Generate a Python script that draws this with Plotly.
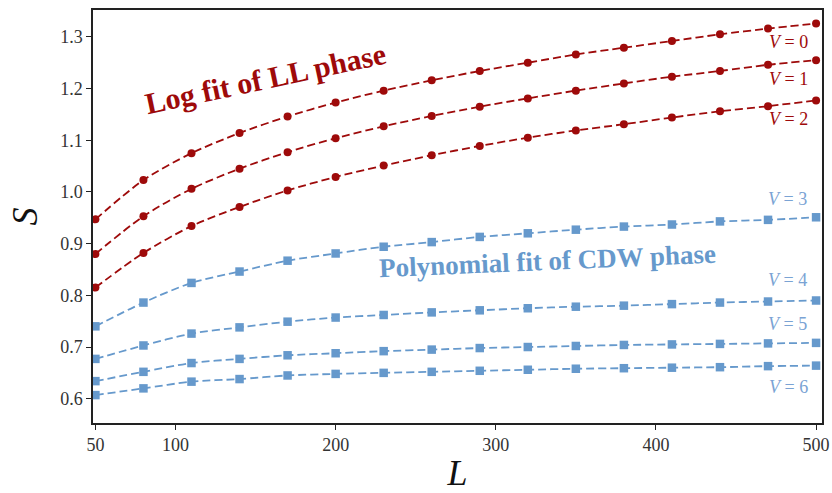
import plotly.graph_objects as go

# System sizes
L = [50, 80, 110, 140, 170, 200, 230, 260, 290, 320, 350, 380, 410, 440, 470, 500]

# Entanglement entropy S(L) for each interaction strength V
S_V0 = [0.947, 1.023, 1.075, 1.114, 1.146, 1.173, 1.196, 1.216, 1.234, 1.250, 1.266, 1.279, 1.292, 1.305, 1.316, 1.326]
S_V1 = [0.880, 0.953, 1.006, 1.045, 1.077, 1.104, 1.127, 1.147, 1.165, 1.181, 1.196, 1.210, 1.223, 1.234, 1.246, 1.255]
S_V2 = [0.815, 0.882, 0.934, 0.971, 1.003, 1.029, 1.051, 1.071, 1.089, 1.105, 1.119, 1.131, 1.144, 1.156, 1.166, 1.177]
S_V3 = [0.740, 0.786, 0.824, 0.846, 0.867, 0.881, 0.894, 0.903, 0.913, 0.920, 0.927, 0.933, 0.937, 0.943, 0.946, 0.951]
S_V4 = [0.677, 0.703, 0.726, 0.738, 0.749, 0.757, 0.762, 0.767, 0.771, 0.775, 0.778, 0.780, 0.783, 0.786, 0.788, 0.790]
S_V5 = [0.634, 0.652, 0.669, 0.677, 0.684, 0.688, 0.692, 0.695, 0.698, 0.700, 0.702, 0.704, 0.705, 0.706, 0.707, 0.708]
S_V6 = [0.607, 0.620, 0.633, 0.638, 0.645, 0.648, 0.650, 0.652, 0.654, 0.656, 0.658, 0.659, 0.660, 0.661, 0.663, 0.664]

# Curve labels and where they sit (L, S)
labels = ["V = 0", "V = 1", "V = 2", "V = 3", "V = 4", "V = 5", "V = 6"]
label_pos = [(483, 1.290), (483, 1.218), (483, 1.141), (482, 0.986),
             (482, 0.829), (482, 0.744), (483, 0.622)]

x_ticks = [50, 100, 200, 300, 400, 500]
y_ticks = [0.6, 0.7, 0.8, 0.9, 1.0, 1.1, 1.2, 1.3]

RED = "#9e0a0a"
BLUE = "#6699cc"
SERIF = "Liberation Serif, Times New Roman, serif"

series = [S_V0, S_V1, S_V2, S_V3, S_V4, S_V5, S_V6]

fig = go.Figure()
for i, ys in enumerate(series):
    ll = i <= 2
    color = RED if ll else BLUE
    fig.add_trace(go.Scatter(
        x=L, y=ys, mode="lines+markers",
        line=dict(color=color, width=1.8, dash="8px,4px", shape="spline", smoothing=0.8),
        marker=dict(symbol="circle" if ll else "square", size=8 if ll else 8.5,
                    color=color, line=dict(width=0)),
        showlegend=False, hoverinfo="skip",
    ))

for i, (txt, (lx, ly)) in enumerate(zip(labels, label_pos)):
    color = RED if i <= 2 else "#7aa3d4"
    v, rest = txt.split(" ", 1)
    fig.add_annotation(
        x=lx, y=ly, xref="x", yref="y", showarrow=False,
        text=f"<i>{v}</i> {rest}",
        font=dict(family=SERIF, size=18, color=color),
    )

fig.add_annotation(
    x=156, y=1.219, xref="x", yref="y", showarrow=False,
    text="<b>Log fit of LL phase</b>", textangle=-12,
    font=dict(family=SERIF, size=30, color=RED),
)
fig.add_annotation(
    x=332, y=0.866, xref="x", yref="y", showarrow=False,
    text="<b>Polynomial fit of CDW phase</b>", textangle=-2.5,
    font=dict(family=SERIF, size=27, color=BLUE),
)

axis_common = dict(
    showline=True, linecolor="#222222", linewidth=1.5, mirror=True,
    ticks="outside", ticklen=5, tickwidth=1.3, tickcolor="#222222",
    showgrid=False, zeroline=False, automargin=False,
    tickfont=dict(family=SERIF, size=18, color="#333333"),
)

fig.update_xaxes(
    range=[48.5, 503.7], tickvals=x_ticks, ticktext=[str(t) for t in x_ticks],
    title=dict(text="<i>L</i>", font=dict(family=SERIF, size=36, color="#111111"), standoff=14),
    **axis_common,
)
fig.update_yaxes(
    range=[0.553, 1.352], tickvals=y_ticks, ticktext=[f"{t:.1f}" for t in y_ticks],
    title=dict(text="<i>S</i>", font=dict(family=SERIF, size=36, color="#111111"), standoff=12),
    **axis_common,
)

fig.update_layout(
    width=832, height=493,
    margin=dict(l=93, r=10, t=10, b=70),
    paper_bgcolor="white", plot_bgcolor="white",
)

fig.write_html("out.html")
